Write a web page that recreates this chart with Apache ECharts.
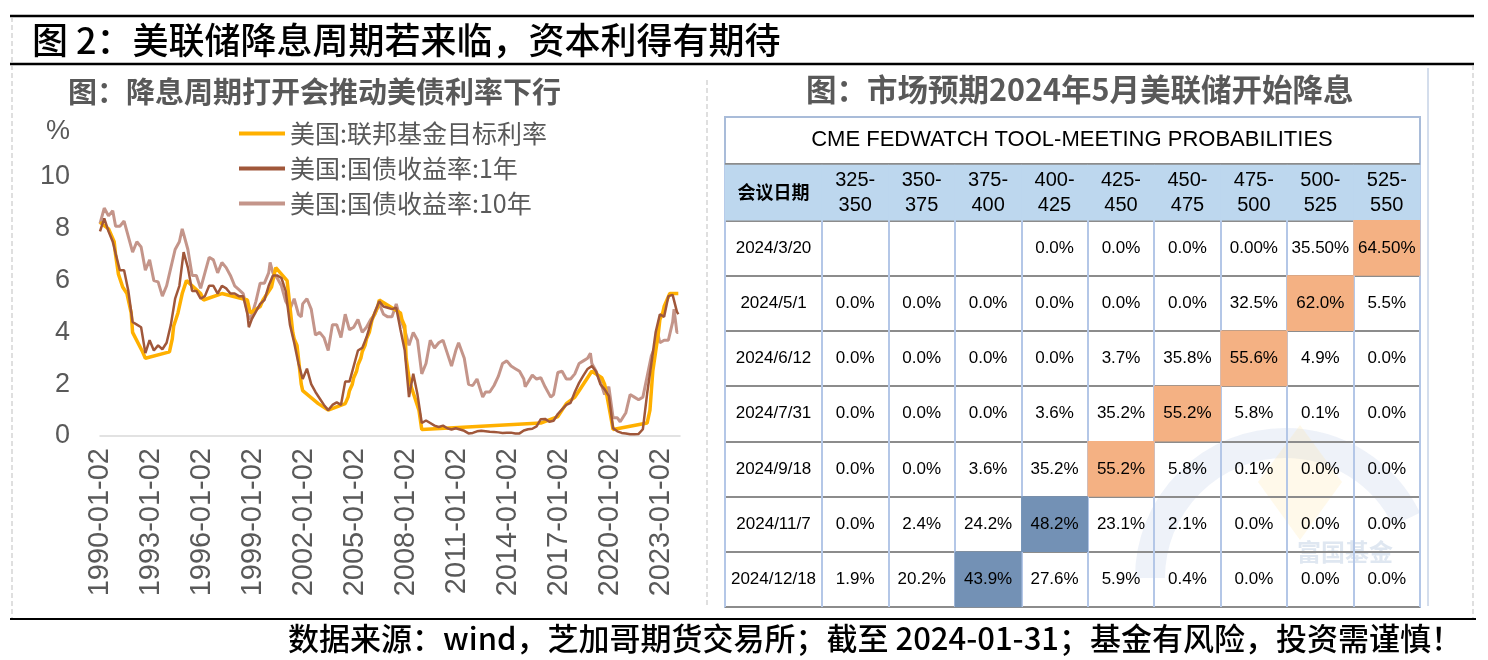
<!DOCTYPE html>
<html><head><meta charset="utf-8">
<script src="https://cdn.jsdelivr.net/npm/echarts@6/dist/echarts.min.js"></script>
<style>html,body{margin:0;padding:0;background:#fff}#c{width:1488px;height:660px}</style>
</head><body><div id="c"></div><script>
// ---------------- DATA ----------------
const mainTitle = '图 2：美联储降息周期若来临，资本利得有期待';
const leftTitle = '图：降息周期打开会推动美债利率下行';
const rightTitle = '图：市场预期2024年5月美联储开始降息';
const tableTitle = 'CME FEDWATCH TOOL-MEETING PROBABILITIES';
const footer = '数据来源：wind，芝加哥期货交易所；截至 2024-01-31；基金有风险，投资需谨慎！';
const seriesNames = ['美国:联邦基金目标利率', '美国:国债收益率:1年', '美国:国债收益率:10年'];
const yUnit = '%';

// Fed funds target (change points, connected by straight lines)
const fedFunds = [
 ['1990-01',8.25],['1990-07',8.0],['1990-11',7.5],['1990-12',7.0],['1991-02',6.25],['1991-05',5.75],
 ['1991-08',5.5],['1991-11',4.75],['1991-12',4.0],['1992-07',3.25],['1992-09',3.0],['1994-02',3.25],
 ['1994-04',3.75],['1994-05',4.25],['1994-08',4.75],['1994-11',5.5],['1995-02',6.0],['1995-07',5.75],
 ['1995-12',5.5],['1996-02',5.25],['1997-03',5.5],['1998-09',5.25],['1998-10',5.0],['1998-11',4.75],
 ['1999-06',5.0],['1999-08',5.25],['1999-11',5.5],['2000-02',5.75],['2000-03',6.0],['2000-05',6.5],
 ['2001-01',6.0],['2001-02',5.5],['2001-03',5.0],['2001-04',4.5],['2001-05',4.0],['2001-06',3.75],
 ['2001-08',3.5],['2001-09',3.0],['2001-10',2.5],['2001-11',2.0],['2001-12',1.75],['2002-11',1.25],
 ['2003-06',1.0],['2004-06',1.25],['2004-08',1.5],['2004-09',1.75],['2004-11',2.0],['2004-12',2.25],
 ['2005-02',2.5],['2005-03',2.75],['2005-05',3.0],['2005-06',3.25],['2005-08',3.5],['2005-09',3.75],
 ['2005-11',4.0],['2005-12',4.25],['2006-01',4.5],['2006-03',4.75],['2006-05',5.0],['2006-06',5.25],
 ['2007-09',4.75],['2007-10',4.5],['2007-12',4.25],['2008-01',3.0],['2008-03',2.25],['2008-04',2.0],
 ['2008-10',1.0],['2008-12',0.25],['2015-12',0.5],['2016-12',0.75],['2017-03',1.0],['2017-06',1.25],
 ['2017-12',1.5],['2018-03',1.75],['2018-06',2.0],['2018-09',2.25],['2018-12',2.5],['2019-07',2.25],
 ['2019-09',2.0],['2019-10',1.75],['2020-03',0.25],['2022-03',0.5],['2022-05',1.0],['2022-06',1.75],
 ['2022-07',2.5],['2022-09',3.25],['2022-11',4.0],['2022-12',4.5],['2023-02',4.75],['2023-03',5.0],
 ['2023-05',5.25],['2023-07',5.5],['2024-01',5.5]
];
// 1-year Treasury yield
const yield1y = [
 ['1990-01',7.9],['1990-04',8.4],['1990-07',7.9],['1990-10',7.5],['1990-12',7.05],
 ['1991-03',6.4],['1991-06',6.4],['1991-09',5.6],['1991-12',4.4],
 ['1992-03',4.3],['1992-06',4.2],['1992-09',3.2],['1992-12',3.7],
 ['1993-03',3.3],['1993-06',3.5],['1993-09',3.35],['1993-12',3.6],
 ['1994-03',4.3],['1994-06',5.3],['1994-09',5.8],['1994-12',7.1],
 ['1995-03',6.5],['1995-06',5.6],['1995-09',5.6],['1995-12',5.3],
 ['1996-03',5.4],['1996-06',5.8],['1996-09',5.8],['1996-12',5.5],
 ['1997-03',5.8],['1997-06',5.7],['1997-09',5.5],['1997-12',5.5],
 ['1998-03',5.4],['1998-06',5.4],['1998-09',4.7],['1998-10',4.2],['1998-12',4.5],
 ['1999-03',4.8],['1999-06',5.1],['1999-09',5.25],['1999-12',5.8],
 ['2000-03',6.2],['2000-06',6.2],['2000-09',6.1],['2000-12',5.6],
 ['2001-03',4.3],['2001-06',3.6],['2001-09',2.8],['2001-12',2.2],
 ['2002-03',2.6],['2002-06',2.0],['2002-09',1.7],['2002-12',1.45],
 ['2003-03',1.2],['2003-06',1.0],['2003-09',1.2],['2003-12',1.3],
 ['2004-03',1.2],['2004-06',2.1],['2004-09',2.1],['2004-12',2.7],
 ['2005-03',3.3],['2005-06',3.4],['2005-09',3.8],['2005-12',4.35],
 ['2006-03',4.8],['2006-06',5.2],['2006-09',5.0],['2006-12',4.95],
 ['2007-03',4.9],['2007-06',4.95],['2007-09',4.1],['2007-12',3.3],
 ['2008-03',1.5],['2008-06',2.4],['2008-09',1.6],['2008-12',0.5],
 ['2009-03',0.6],['2009-06',0.5],['2009-09',0.4],['2009-12',0.35],
 ['2010-03',0.4],['2010-06',0.3],['2010-09',0.25],['2010-12',0.3],
 ['2011-03',0.25],['2011-06',0.2],['2011-09',0.1],['2011-12',0.12],
 ['2012-03',0.18],['2012-06',0.2],['2012-09',0.18],['2012-12',0.16],
 ['2013-03',0.15],['2013-06',0.14],['2013-09',0.12],['2013-12',0.13],
 ['2014-03',0.13],['2014-06',0.1],['2014-09',0.1],['2014-12',0.21],
 ['2015-03',0.26],['2015-06',0.28],['2015-09',0.37],['2015-12',0.65],
 ['2016-03',0.66],['2016-06',0.55],['2016-09',0.59],['2016-12',0.85],
 ['2017-03',1.03],['2017-06',1.2],['2017-09',1.28],['2017-12',1.7],
 ['2018-03',2.05],['2018-06',2.33],['2018-09',2.59],['2018-12',2.7],
 ['2019-03',2.49],['2019-06',2.0],['2019-09',1.8],['2019-12',1.55],
 ['2020-03',0.3],['2020-06',0.18],['2020-09',0.12],['2020-12',0.1],
 ['2021-03',0.07],['2021-06',0.07],['2021-09',0.08],['2021-12',0.26],
 ['2022-03',1.63],['2022-06',2.8],['2022-09',4.0],['2022-12',4.7],
 ['2023-03',4.6],['2023-06',5.4],['2023-09',5.45],['2023-12',4.8],['2024-01',4.7]
];
// 10-year Treasury yield
const yield10y = [
 ['1990-01',8.2],['1990-04',8.8],['1990-07',8.5],['1990-10',8.7],['1990-12',8.1],
 ['1991-03',8.1],['1991-06',8.3],['1991-09',7.7],['1991-12',7.1],
 ['1992-03',7.5],['1992-06',7.3],['1992-09',6.4],['1992-12',6.8],
 ['1993-03',6.0],['1993-06',5.95],['1993-09',5.4],['1993-12',5.8],
 ['1994-03',6.5],['1994-06',7.2],['1994-09',7.5],['1994-11',8.0],['1994-12',7.8],
 ['1995-03',7.2],['1995-06',6.2],['1995-09',6.2],['1995-12',5.7],
 ['1996-03',6.3],['1996-06',6.9],['1996-09',6.8],['1996-12',6.3],
 ['1997-03',6.7],['1997-06',6.5],['1997-09',6.2],['1997-12',5.8],
 ['1998-03',5.65],['1998-06',5.5],['1998-09',4.8],['1998-10',4.5],['1998-12',4.65],
 ['1999-03',5.2],['1999-06',5.9],['1999-09',5.9],['1999-12',6.3],
 ['2000-01',6.7],['2000-03',6.3],['2000-06',6.1],['2000-09',5.8],['2000-12',5.2],
 ['2001-03',4.9],['2001-06',5.3],['2001-09',4.7],['2001-11',4.6],['2001-12',5.1],
 ['2002-03',5.3],['2002-06',4.9],['2002-09',3.9],['2002-12',4.0],
 ['2003-03',3.8],['2003-06',3.3],['2003-09',4.3],['2003-12',4.3],
 ['2004-03',3.8],['2004-06',4.7],['2004-09',4.1],['2004-12',4.2],
 ['2005-03',4.5],['2005-06',4.0],['2005-09',4.2],['2005-12',4.5],
 ['2006-03',4.7],['2006-06',5.1],['2006-09',4.7],['2006-12',4.6],
 ['2007-03',4.6],['2007-06',5.1],['2007-09',4.5],['2007-12',4.1],
 ['2008-03',3.5],['2008-06',4.0],['2008-09',3.7],['2008-12',2.4],
 ['2009-03',2.8],['2009-06',3.7],['2009-09',3.4],['2009-12',3.6],
 ['2010-03',3.7],['2010-06',3.2],['2010-09',2.7],['2010-12',3.3],
 ['2011-02',3.6],['2011-06',3.0],['2011-09',2.0],['2011-12',1.95],
 ['2012-03',2.2],['2012-07',1.5],['2012-09',1.7],['2012-12',1.7],
 ['2013-03',1.95],['2013-06',2.3],['2013-09',2.8],['2013-12',2.9],
 ['2014-03',2.7],['2014-06',2.6],['2014-09',2.5],['2014-12',2.2],
 ['2015-01',1.9],['2015-06',2.35],['2015-09',2.2],['2015-12',2.25],
 ['2016-03',1.9],['2016-07',1.5],['2016-09',1.6],['2016-12',2.45],
 ['2017-03',2.5],['2017-06',2.2],['2017-09',2.2],['2017-12',2.4],
 ['2018-03',2.8],['2018-06',2.9],['2018-09',3.0],['2018-11',3.2],['2018-12',2.8],
 ['2019-03',2.5],['2019-06',2.1],['2019-09',1.6],['2019-12',1.9],
 ['2020-03',0.7],['2020-06',0.7],['2020-08',0.55],['2020-12',0.9],
 ['2021-03',1.6],['2021-06',1.5],['2021-09',1.4],['2021-12',1.5],
 ['2022-03',2.3],['2022-06',3.1],['2022-09',3.5],['2022-10',4.1],['2022-12',3.6],
 ['2023-03',3.7],['2023-06',3.7],['2023-09',4.4],['2023-10',4.9],['2023-12',4.0],['2024-01',4.0]
];

// FedWatch table
const tableHeadLabel = '会议日期';
const meetingDates = ['2024/3/20','2024/5/1','2024/6/12','2024/7/31','2024/9/18','2024/11/7','2024/12/18'];
const rateRanges = ['325-350','350-375','375-400','400-425','425-450','450-475','475-500','500-525','525-550'];
const probs = [
 ['','','','0.0%','0.0%','0.0%','0.00%','35.50%','64.50%'],
 ['0.0%','0.0%','0.0%','0.0%','0.0%','0.0%','32.5%','62.0%','5.5%'],
 ['0.0%','0.0%','0.0%','0.0%','3.7%','35.8%','55.6%','4.9%','0.0%'],
 ['0.0%','0.0%','0.0%','3.6%','35.2%','55.2%','5.8%','0.1%','0.0%'],
 ['0.0%','0.0%','3.6%','35.2%','55.2%','5.8%','0.1%','0.0%','0.0%'],
 ['0.0%','2.4%','24.2%','48.2%','23.1%','2.1%','0.0%','0.0%','0.0%'],
 ['1.9%','20.2%','43.9%','27.6%','5.9%','0.4%','0.0%','0.0%','0.0%']
];

// ---------------- BUILD ----------------
const ym = s => { const [y, m] = s.split('-').map(Number); return y + (m - 1) / 12; };
const toXY = arr => arr.map(([d, v]) => [ym(d), v]);
const CJK = '"Noto Sans CJK SC", sans-serif';
const LAT = '"Liberation Sans", Arial, sans-serif';
const NARROW = '"Liberation Sans Narrow", "Liberation Sans", Arial, sans-serif';

const dateCells = [{ value: [0, 0, 3], txt: tableHeadLabel, label: { fontFamily: CJK, fontWeight: 'bold', fontSize: 18 } }];
meetingDates.forEach((d, i) => dateCells.push({ value: [0, i + 1, 0], txt: d }));
const probCells = [];
rateRanges.forEach((r, j) => probCells.push({ value: [j, 0, 3], txt: r.replace('-', '-\n'), label: { fontSize: 20, lineHeight: 25 } }));
probs.forEach((row, i) => {
  const nums = row.map(s => s === '' ? -1 : parseFloat(s));
  const mx = Math.max(...nums);
  row.forEach((s, j) => {
    const code = nums[j] === mx ? (mx < 50 ? 2 : 1) : 0;
    probCells.push({ value: [j, i + 1, code], txt: s });
  });
});

const GRAY = '#595959';
const chart = echarts.init(document.getElementById('c'));
const catAxis = (data, extra) => Object.assign({
  type: 'category', data, axisLabel: { show: false }, axisLine: { show: false }, axisTick: { show: false }
}, extra);

chart.setOption({
  animation: false,
  backgroundColor: '#fff',
  grid: [
    { left: 100, right: 808, top: 177, bottom: 224 },
    { left: 725, width: 97, top: 165, height: 442 },
    { left: 822, width: 598, top: 165, height: 442 }
  ],
  legend: {
    data: seriesNames, orient: 'vertical', left: 234, top: 116, itemGap: 10,
    itemWidth: 46, itemHeight: 4, icon: 'rect',
    textStyle: { fontFamily: CJK, fontSize: 25, lineHeight: 25, color: GRAY }
  },
  xAxis: [
    { type: 'value', gridIndex: 0, min: 1990, max: 2024.1, interval: 3,
      axisLine: { show: true, lineStyle: { color: '#D9D9D9', width: 1.5 } },
      axisTick: { show: false }, splitLine: { show: false },
      axisLabel: { rotate: 90, margin: 12, fontFamily: LAT, fontSize: 29, color: GRAY,
        formatter: v => { const r = Math.round(v); return (Math.abs(v - r) < 1e-6 && (r - 1990) % 3 === 0) ? r + '-01-02' : ''; } } },
    catAxis(['d'], { gridIndex: 1, splitLine: { show: true, lineStyle: { color: '#B4C7E7', width: 2 } } }),
    catAxis(rateRanges, { gridIndex: 2, splitLine: { show: true, lineStyle: { color: '#B4C7E7', width: 2 } } })
  ],
  yAxis: [
    { type: 'value', gridIndex: 0, min: 0, max: 10, interval: 2,
      axisLine: { show: false }, axisTick: { show: false }, splitLine: { show: false },
      axisLabel: { margin: 30, fontFamily: LAT, fontSize: 27, color: GRAY } },
    catAxis(['h'].concat(meetingDates), { gridIndex: 1, inverse: true, splitLine: { show: true, lineStyle: { color: '#8C8C8C', width: 2 } } }),
    catAxis(['h'].concat(meetingDates), { gridIndex: 2, inverse: true, splitLine: { show: true, lineStyle: { color: '#8C8C8C', width: 2 } } })
  ],
  visualMap: {
    type: 'piecewise', show: false, dimension: 2, seriesIndex: [3, 4],
    pieces: [
      { value: 0, color: 'rgba(255,255,255,0)' },
      { value: 1, color: '#F4B183' },
      { value: 2, color: '#7391B5' },
      { value: 3, color: '#BDD7EE' }
    ]
  },
  series: [
    { name: seriesNames[0], type: 'line', xAxisIndex: 0, yAxisIndex: 0, data: toXY(fedFunds), showSymbol: false, z: 3,
      lineStyle: { color: '#FFB000', width: 3.5 }, itemStyle: { color: '#FFB000' } },
    { name: seriesNames[1], type: 'line', xAxisIndex: 0, yAxisIndex: 0, data: toXY(yield1y), showSymbol: false, z: 4,
      lineStyle: { color: '#A0573A', width: 2.5 }, itemStyle: { color: '#A0573A' } },
    { name: seriesNames[2], type: 'line', xAxisIndex: 0, yAxisIndex: 0, data: toXY(yield10y), showSymbol: false, z: 2,
      lineStyle: { color: '#C4958A', width: 3 }, itemStyle: { color: '#C4958A' } },
    { type: 'heatmap', xAxisIndex: 1, yAxisIndex: 1, data: dateCells,
      label: { show: true, formatter: p => p.data.txt, fontFamily: NARROW, fontSize: 17, color: '#000' } },
    { type: 'heatmap', xAxisIndex: 2, yAxisIndex: 2, data: probCells,
      label: { show: true, formatter: p => p.data.txt, fontFamily: NARROW, fontSize: 17, color: '#000' } }
  ],
  graphic: [
    // watermark
    { type: 'arc', z: -1, shape: { cx: 1285, cy: 578, r: 135, startAngle: Math.PI, endAngle: 2 * Math.PI - 0.45, clockwise: true },
      style: { stroke: 'rgba(195,210,232,0.28)', lineWidth: 30, fill: null } },
    { type: 'polygon', z: -1, shape: { points: [[1300, 425], [1342, 482], [1300, 540], [1258, 482]] },
      style: { fill: 'rgba(255,225,150,0.2)' } },
    { type: 'text', z: -1, left: 1297, top: 540, style: { text: '富国基金', font: 'bold 24px ' + CJK, fill: 'rgba(175,195,220,0.4)' } },
    // frame lines
    { type: 'line', shape: { x1: 10, y1: 16, x2: 1474, y2: 16 }, style: { stroke: '#000', lineWidth: 2.5 } },
    { type: 'line', shape: { x1: 10, y1: 64, x2: 1474, y2: 64 }, style: { stroke: '#000', lineWidth: 2.5 } },
    { type: 'line', shape: { x1: 10, y1: 619, x2: 1476, y2: 619 }, style: { stroke: '#000', lineWidth: 2 } },
    { type: 'line', shape: { x1: 12, y1: 17, x2: 12, y2: 618 }, style: { stroke: '#BFBFBF', lineWidth: 1, lineDash: [5, 3] } },
    { type: 'line', shape: { x1: 1473, y1: 65, x2: 1473, y2: 618 }, style: { stroke: '#BFBFBF', lineWidth: 1, lineDash: [5, 3] } },
    { type: 'line', shape: { x1: 707, y1: 80, x2: 707, y2: 607 }, style: { stroke: '#BFBFBF', lineWidth: 1, lineDash: [5, 3] } },
    { type: 'line', shape: { x1: 1428, y1: 68, x2: 1428, y2: 606 }, style: { stroke: '#A9BCD9', lineWidth: 1 } },
    // titles
    { type: 'text', x: 32, y: 40, style: { text: mainTitle, font: '500 36px ' + CJK, fill: '#000', textVerticalAlign: 'middle' } },
    { type: 'text', x: 68, y: 92, style: { text: leftTitle, font: 'bold 29px ' + CJK, fill: GRAY, textVerticalAlign: 'middle' } },
    { type: 'text', x: 806, y: 89, style: { text: rightTitle, font: 'bold 30.5px ' + CJK, fill: GRAY, textVerticalAlign: 'middle' } },
    { type: 'text', left: 46, top: 118, style: { text: yUnit, font: '27px ' + LAT, fill: GRAY } },
    // table title box
    { type: 'rect', shape: { x: 725, y: 117, width: 695, height: 490 }, style: { fill: null, stroke: '#A9BCD9', lineWidth: 2 } },
    { type: 'line', shape: { x1: 725, y1: 164, x2: 1420, y2: 164 }, style: { stroke: '#8C8C8C', lineWidth: 2 } },
    { type: 'text', x: 1072, y: 140, style: { text: tableTitle, font: '22px ' + NARROW, fill: '#000', textAlign: 'center', textVerticalAlign: 'middle' } },
    // footer
    { type: 'text', x: 1462, y: 638, style: { text: footer, font: '500 31px ' + CJK, fill: '#000', textAlign: 'right', textVerticalAlign: 'middle' } }
  ]
});
</script></body></html>
